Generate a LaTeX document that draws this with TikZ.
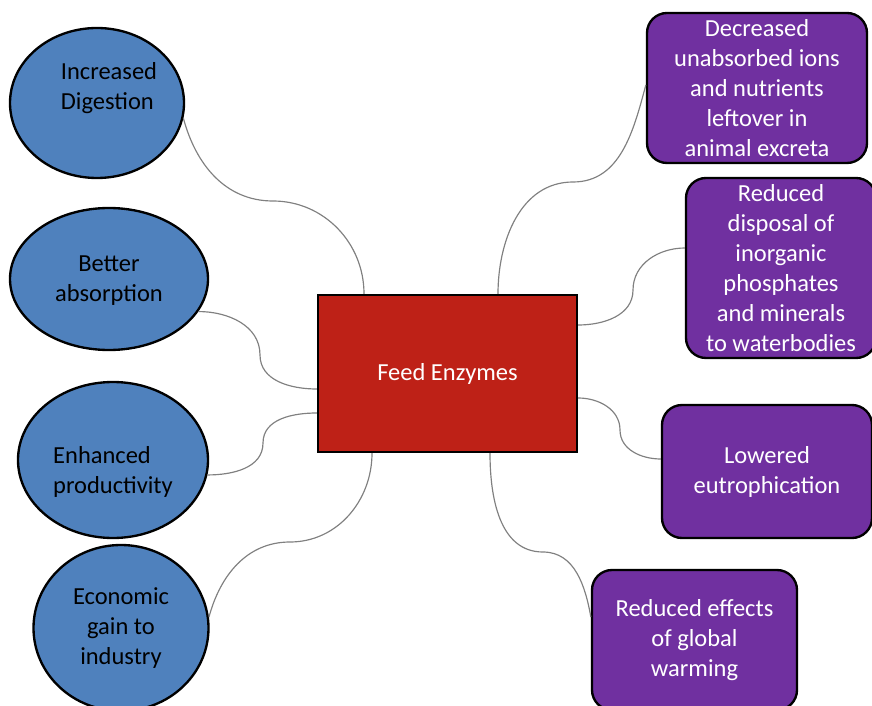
\documentclass[tikz,border=0pt]{standalone}
\usepackage{fontspec}
\setmainfont{Carlito}
\usepackage{tikz}
\usetikzlibrary{shapes.geometric}
\definecolor{bubblue}{HTML}{4F81BD}
\definecolor{hubred}{HTML}{BE2117}
\definecolor{boxpurple}{HTML}{7030A0}
\definecolor{linkgray}{HTML}{808080}

\begin{document}
\begin{tikzpicture}[
            every node/.style={font=\fontsize{20.9}{25.6}\selectfont},
            bub/.style={ellipse, draw=black, line width=2pt, fill=bubblue, inner sep=0pt},
            bubtxt/.style={inner sep=0pt, text=black},
            hub/.style={draw=black, line width=2pt, fill=hubred, text=white,
                    minimum width=7.77cm, minimum height=4.71cm},
            res/.style={draw=black, line width=2pt, fill=boxpurple, text=white,
                    rounded corners=0.6cm, align=center, inner sep=0pt},
            lnk/.style={draw=linkgray, line width=1pt}
        ]
        \useasboundingbox (0,0) rectangle (26.16,21.15);

        % ================= pusat =================
        \node[hub] (feed) at (13.425,9.945) {Feed Enzymes};

        % ================= manfaat (kiri) =================
        \node[bub, minimum width=5.22cm, minimum height=4.50cm] (dig)  at (2.91,18.06) {};
        \node[bub, minimum width=5.94cm, minimum height=4.26cm] (abs)  at (3.27,12.78) {};
        \node[bub, minimum width=5.70cm, minimum height=4.68cm] (prod) at (3.39,7.35) {};
        \node[bub, minimum width=5.25cm, minimum height=4.98cm] (econ) at (3.63,2.31) {};

        \node[bubtxt, align=left]   (digtxt)  at (3.27,18.51) {Increased\\Digestion};
        \node[bubtxt, align=center] (abstxt)  at (3.27,12.72) {Better\\absorption};
        \node[bubtxt, align=left]   (prodtxt) at (3.39,6.99)  {Enhanced\\productivity};
        \node[bubtxt, align=center] (econtxt) at (3.63,2.31)  {Economic\\gain to\\industry};

        % ================= dampak lingkungan (kanan) =================
        \node[res, minimum width=6.60cm, minimum height=4.50cm] (excr) at (22.71,18.51)
        {Decreased\\unabsorbed ions\\and nutrients\\leftover in\\animal excreta};
        \node[res, minimum width=5.70cm, minimum height=5.40cm] (disp) at (23.43,13.11)
        {Reduced\\disposal of\\inorganic\\phosphates\\and minerals\\to waterbodies};
        \node[res, minimum width=6.30cm, minimum height=3.99cm] (eutr) at (23.01,7.005)
        {Lowered\\eutrophication};
        \node[res, minimum width=6.15cm, minimum height=4.20cm] (warm) at (20.835,1.95)
        {Reduced effects\\of global\\warming};

        % ================= titik belok =================
        \coordinate (kdig)  at (8.19,15.12);
        \coordinate (kabs)  at (7.80,10.50);
        \coordinate (kprod) at (7.89,7.86);
        \coordinate (kecon) at (8.70,4.89);
        \coordinate (kexcr) at (17.19,15.69);
        \coordinate (kdisp) at (18.99,12.45);
        \coordinate (keutr) at (18.60,8.25);
        \coordinate (kwarm) at (16.29,4.59);

        % ================= penghubung =================
        \draw[lnk] (dig.-10) to[out=-75,in=180] (kdig) to[out=0,in=90] ([xshift=-2.505cm]feed.north);
        \draw[lnk] (abs.-20) to[out=0,in=90] (kabs) to[out=-90,in=180] ([yshift=-0.465cm]feed.west);
        \draw[lnk] (prod.-9) to[out=0,in=-90] (kprod) to[out=90,in=180] ([yshift=-1.185cm]feed.west);
        \draw[lnk] (econ.7) to[out=75,in=180] (kecon) to[out=0,in=-90] ([xshift=-2.265cm]feed.south);

        \draw[lnk] ([xshift=1.515cm]feed.north) to[out=90,in=180] (kexcr) to[out=0,in=-105] ([yshift=0.09cm]excr.west);
        \draw[lnk] ([yshift=1.455cm]feed.east) to[out=0,in=-90] (kdisp) to[out=90,in=180] ([yshift=0.6cm]disp.west);
        \draw[lnk] ([yshift=-0.735cm]feed.east) to[out=0,in=90] (keutr) to[out=-90,in=180] ([yshift=0.375cm]eutr.west);
        \draw[lnk] ([xshift=1.275cm]feed.south) to[out=-90,in=180] (kwarm) to[out=0,in=100] ([yshift=0.69cm]warm.west);

    \end{tikzpicture}
\end{document}
